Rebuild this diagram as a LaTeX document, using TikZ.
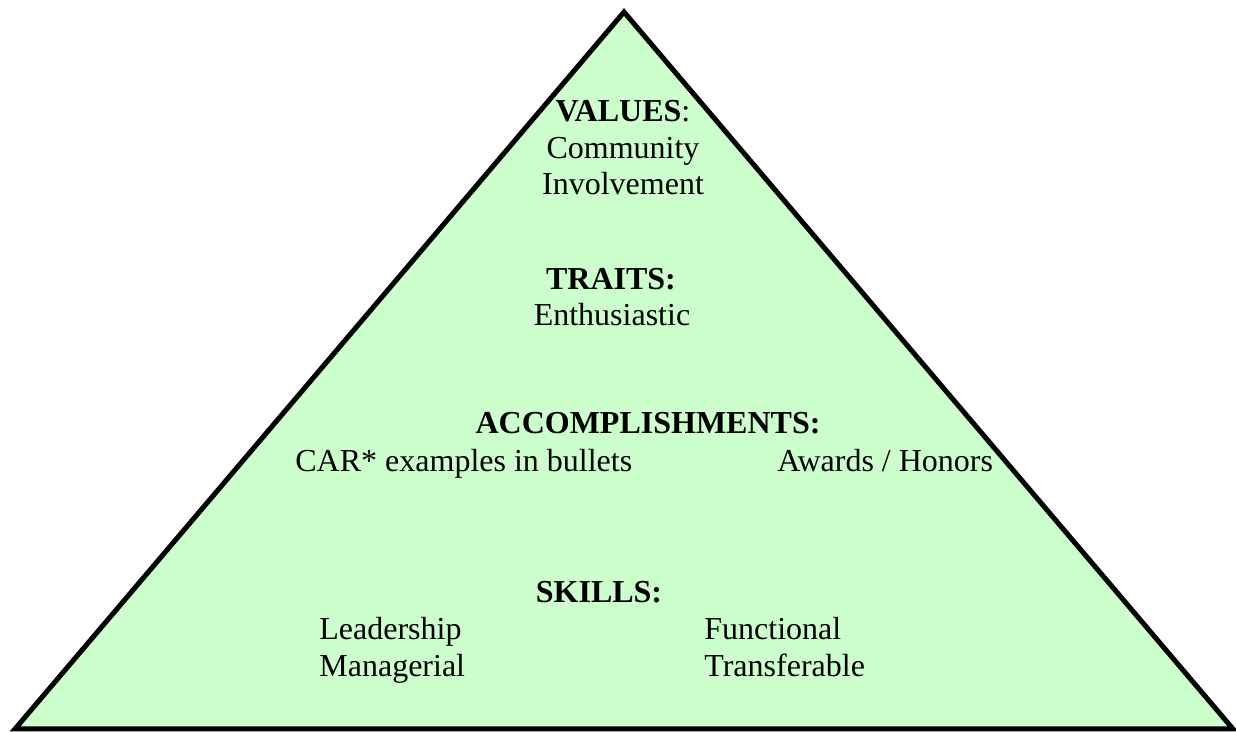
\documentclass[tikz,border=0pt]{standalone}
\usepackage{fontspec}
\setmainfont{Liberation Serif}
\usepackage{tikz}

\definecolor{pyrgreen}{HTML}{CCFFCC}

\begin{document}
\begin{tikzpicture}[x=0.5pt,y=0.5pt,
    lbl/.style={anchor=base,inner sep=0pt,font=\fontsize{16}{19}\selectfont},
    lblleft/.style={lbl,anchor=base west}]
  \useasboundingbox (0,0) rectangle (1236,732);
  \coordinate (L) at (15,3);
  \coordinate (R) at (1233,3);
  \coordinate (T) at (624,720);
  \draw[line width=2.5pt,fill=pyrgreen] (L)--(R)--(T)--cycle;
  % values
  \node[lbl] (values) at (623,610) {\textbf{VALUES}:};
  \node[lbl] (community) at (623,573) {Community};
  \node[lbl] (involve) at (623,537) {Involvement};
  % traits
  \node[lbl] (traits) at (611,442) {\textbf{TRAITS:}};
  \node[lbl] (enthus) at (612,406) {Enthusiastic};
  % accomplishments
  \node[lbl] (accomp) at (648,298) {\textbf{ACCOMPLISHMENTS:}};
  \node[lblleft] (car) at (295,260) {CAR* examples in bullets};
  \node[lblleft] (awards) at (777,260) {Awards / Honors};
  % skills
  \node[lbl] (skills) at (599,129) {\textbf{SKILLS:}};
  \node[lblleft] (lead) at (319,92) {Leadership};
  \node[lblleft] (manage) at (319,55) {Managerial};
  \node[lblleft] (func) at (704,92) {Functional};
  \node[lblleft] (transfer) at (704,55) {Transferable};
\end{tikzpicture}
\end{document}
